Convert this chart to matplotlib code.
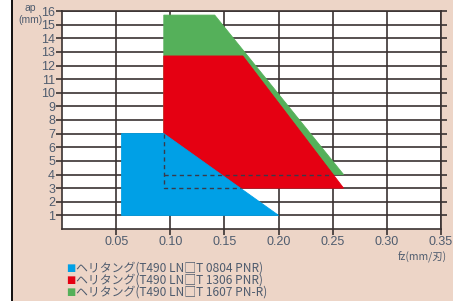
import matplotlib.pyplot as plt
from matplotlib.patches import Polygon, Rectangle
from matplotlib.lines import Line2D

plt.rcParams['font.family'] = ['Liberation Sans', 'Noto Sans CJK JP', 'DejaVu Sans']

# data
fz_ticks = [0.05, 0.10, 0.15, 0.20, 0.25, 0.30, 0.35]
ap_ticks = list(range(1, 17))

blue_fz = [0.055, 0.055, 0.094, 0.20]
blue_ap = [1, 7, 7, 1]
red_fz = [0.094, 0.094, 0.167, 0.26]
red_ap = [3, 12.7, 12.7, 3]
green_fz = [0.094, 0.094, 0.141, 0.26]
green_ap = [4, 15.7, 15.7, 4]

# hidden outlines (dashed)
dash1_fz = [0.094, 0.094, 0.165]
dash1_ap = [7, 3, 3]
dash2_fz = [0.094, 0.248]
dash2_ap = [4, 4]

labels = ["ヘリタング(T490 LN□T 0804 PNR)",
          "ヘリタング(T490 LN□T 1306 PNR)",
          "ヘリタング(T490 LN□T 1607 PN-R)"]
colors = ["#00a0e6", "#e50012", "#55b05a"]

bg = "#edd5c7"
txt = "#4f5c6e"
grid_c = "#3a3232"

fig = plt.figure(figsize=(4.53, 3.01), dpi=100)
fig.patch.set_facecolor(bg)
fig.patches.append(Rectangle((0, 0), 11 / 453, 1, transform=fig.transFigure,
                             facecolor="white", edgecolor="none"))
fig.lines.append(Line2D([12 / 453, 12 / 453], [0, 1], transform=fig.transFigure,
                        color="black", lw=1.3))

ax = fig.add_axes([62 / 453, 1 - 229 / 301, 379 / 453, 218 / 301])
ax.set_facecolor("white")
ax.set_xlim(0, 0.35)
ax.set_ylim(0, 16)

for y in ap_ticks:
    ax.axhline(y, color=grid_c, lw=1.2, zorder=1)
for x in fz_ticks:
    ax.axvline(x, color=grid_c, lw=1.2, zorder=1)

for fz, ap, c in [(green_fz, green_ap, colors[2]),
                  (red_fz, red_ap, colors[1]),
                  (blue_fz, blue_ap, colors[0])]:
    ax.add_patch(Polygon(list(zip(fz, ap)), closed=True, facecolor=c,
                         edgecolor=c, lw=0.6, zorder=2))

ax.plot(dash1_fz, dash1_ap, ls=(0, (3, 2.5)), color="#3a3a4a", lw=1.0, zorder=3)
ax.plot(dash2_fz, dash2_ap, ls=(0, (3, 2.5)), color="#3a3a4a", lw=1.0, zorder=3)

ax.set_xticks(fz_ticks)
ax.set_xticklabels([f"{v:.2f}" for v in fz_ticks])
ax.set_yticks(ap_ticks)
ax.set_yticklabels([str(v) for v in ap_ticks])
ax.tick_params(axis="both", colors=grid_c, labelcolor=txt, labelsize=9,
               length=4, width=1.2, pad=1)
ax.tick_params(axis="y", right=True, direction="out")
for s in ax.spines.values():
    s.set_color(grid_c)
    s.set_linewidth(1.2)

fig.text(30 / 453, 1 - 8 / 301, "ap", ha="center", va="center", fontsize=7.5, color=txt)
fig.text(30 / 453, 1 - 20 / 301, "(mm)", ha="center", va="center", fontsize=7.5, color=txt)
fig.text(447 / 453, 1 - 257 / 301, "fz(mm/刃)", ha="right", va="center",
         fontsize=7.5, color=txt, family=['Noto Sans CJK JP'])

for i, (lab, c) in enumerate(zip(labels, colors)):
    yy = 1 - (268 + 12 * i) / 301
    fig.text(66 / 453, yy, "■", ha="left", va="center", fontsize=7, color=c,
             family=['DejaVu Sans'])
    fig.text(76 / 453, yy, lab, ha="left", va="center", fontsize=8.6, color=txt,
             family=['Noto Sans CJK JP'])

fig.savefig("out.png", dpi=100, facecolor=bg)
